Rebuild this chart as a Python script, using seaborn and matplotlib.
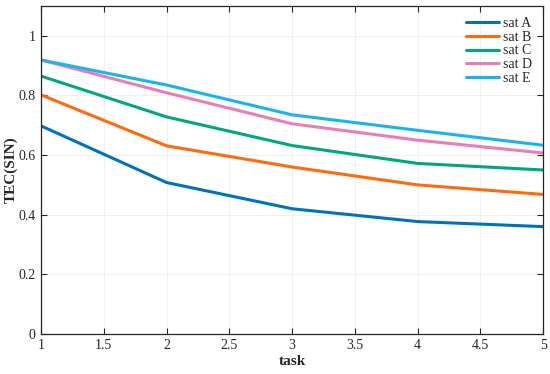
import pandas as pd
import matplotlib
matplotlib.use("Agg")
import matplotlib.pyplot as plt
import seaborn as sns

sns.set_style("whitegrid")
plt.rcParams["font.family"] = ["Liberation Serif", "DejaVu Serif"]

tasks = [1, 2, 3, 4, 5]
sat_a = [0.698, 0.508, 0.42, 0.377, 0.36]
sat_b = [0.802, 0.631, 0.56, 0.50, 0.468]
sat_c = [0.865, 0.728, 0.632, 0.572, 0.55]
sat_d = [0.919, 0.809, 0.705, 0.65, 0.607]
sat_e = [0.919, 0.835, 0.735, 0.683, 0.633]
names = ["sat A", "sat B", "sat C", "sat D", "sat E"]
colors = ["#0072BD", "#FF6A10", "#00A67E", "#E87EB5", "#1AB4EC"]

rows = []
for name, vals in zip(names, [sat_a, sat_b, sat_c, sat_d, sat_e]):
    for t, v in zip(tasks, vals):
        rows.append({"task": t, "value": v, "sat": name})
df = pd.DataFrame(rows)

fig = plt.figure(figsize=(5.5, 3.74), dpi=100)
ax = fig.add_axes([0.0745, 0.107, 0.913, 0.877])
sns.lineplot(data=df, x="task", y="value", hue="sat", palette=colors,
             linewidth=2.2, ax=ax)

ax.set_xlim(1, 5)
ax.set_ylim(0, 1.1)
ax.set_xticks([1, 1.5, 2, 2.5, 3, 3.5, 4, 4.5, 5])
ax.set_xticklabels(["1", "1.5", "2", "2.5", "3", "3.5", "4", "4.5", "5"])
ax.set_yticks([0, 0.2, 0.4, 0.6, 0.8, 1])
ax.set_yticklabels(["0", "0.2", "0.4", "0.6", "0.8", "1"])
ax.set_xlabel("task", fontweight="bold", fontsize=11, labelpad=2)
ax.set_ylabel("TEC(SIN)", fontweight="bold", fontsize=11)
ax.yaxis.set_label_coords(-0.046, 0.5)
ax.tick_params(axis="y", pad=4)
ax.tick_params(direction="in", length=4, width=0.8, labelsize=10,
               top=True, right=True, bottom=True, left=True, color="#262626")
ax.grid(True, color="#ececec", linewidth=0.6)
for s in ax.spines.values():
    s.set_color("#262626")
    s.set_linewidth(0.9)

leg = ax.legend(loc="upper right", frameon=False, fontsize=10,
                handlelength=2.4, labelspacing=0.05, borderaxespad=0.4,
                handletextpad=0.3)
for line in leg.get_lines():
    line.set_linewidth(2.2)

fig.savefig("out.png", dpi=100)
